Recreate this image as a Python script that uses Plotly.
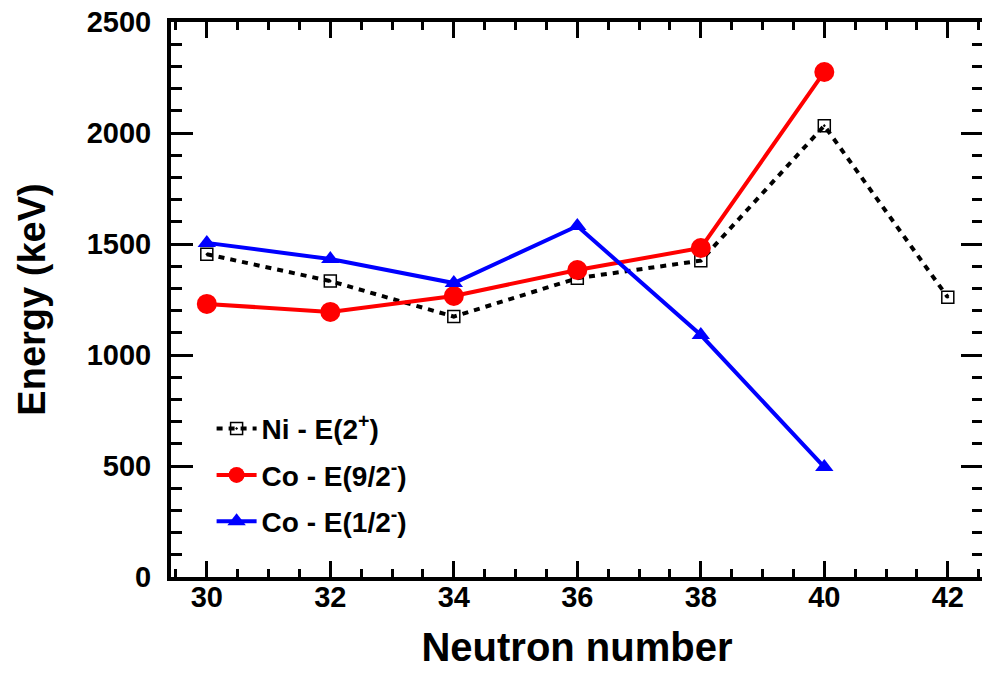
import plotly.graph_objects as go

neutrons = [30, 32, 34, 36, 38, 40, 42]
ni_e2 = [1454, 1333, 1173, 1346, 1425, 2033, 1260]
co_n = [30, 32, 34, 36, 38, 40]
co_92 = [1230, 1194, 1266, 1383, 1482, 2275]
co_12 = [1505, 1432, 1324, 1581, 1090, 495]

FONT = "Liberation Sans"

fig = go.Figure()
fig.add_trace(go.Scatter(
    x=neutrons, y=ni_e2, mode="lines+markers", name="Ni - E(2<sup>+</sup>)",
    line=dict(color="black", width=4, dash="6px,6px"),
    marker=dict(symbol="square-open-dot", size=12, color="black", line=dict(width=1.5, color="black")),
    legendgroup="a"))
fig.add_trace(go.Scatter(
    x=co_n, y=co_92, mode="lines+markers", name="Co - E(9/2<sup>-</sup>)",
    line=dict(color="#ff0000", width=4),
    marker=dict(symbol="circle", size=20, color="#ff0000"),
    legendgroup="b"))
fig.add_trace(go.Scatter(
    x=co_n, y=co_12, mode="lines+markers", name="Co - E(1/2<sup>-</sup>)",
    line=dict(color="#0000ff", width=4),
    marker=dict(symbol="triangle-up", size=16, color="#0000ff"),
    legendgroup="c"))

axis_common = dict(
    showline=True, linecolor="black", linewidth=4, mirror="allticks",
    ticks="inside", tickcolor="black", tickwidth=3,
    showgrid=False, zeroline=False, automargin=False,
    ticklabeloverflow="allow",
    tickfont=dict(family=FONT, size=29, color="black", weight="bold"),
)

fig.update_xaxes(
    range=[29.42, 42.57], tickmode="array", tickvals=neutrons, ticklen=16,
    minor=dict(dtick=0.5, tick0=30, ticks="inside", ticklen=8, tickwidth=3, tickcolor="black"),
    ticklabelstandoff=-9,
    title=dict(text="Neutron number", font=dict(family=FONT, size=40, color="black", weight="bold"), standoff=22),
    **axis_common)
fig.update_yaxes(
    range=[0, 2500], tickmode="linear", tick0=0, dtick=500, ticklen=22,
    minor=dict(dtick=100, ticks="inside", ticklen=11, tickwidth=3, tickcolor="black"),
    ticklabelstandoff=10,
    title=dict(text="Energy (keV)", font=dict(family=FONT, size=38, color="black", weight="bold"), standoff=30),
    **axis_common)

fig.update_layout(
    width=982, height=676,
    margin=dict(l=163, r=7, t=14, b=107),
    paper_bgcolor="white", plot_bgcolor="white",
    showlegend=True,
    legend=dict(x=0.05, y=0.312, xanchor="left", yanchor="top",
                bgcolor="white", font=dict(family=FONT, size=28, color="black", weight="bold"),
                itemwidth=40, tracegroupgap=7, traceorder="grouped"),
)

fig.write_html("out.html")
